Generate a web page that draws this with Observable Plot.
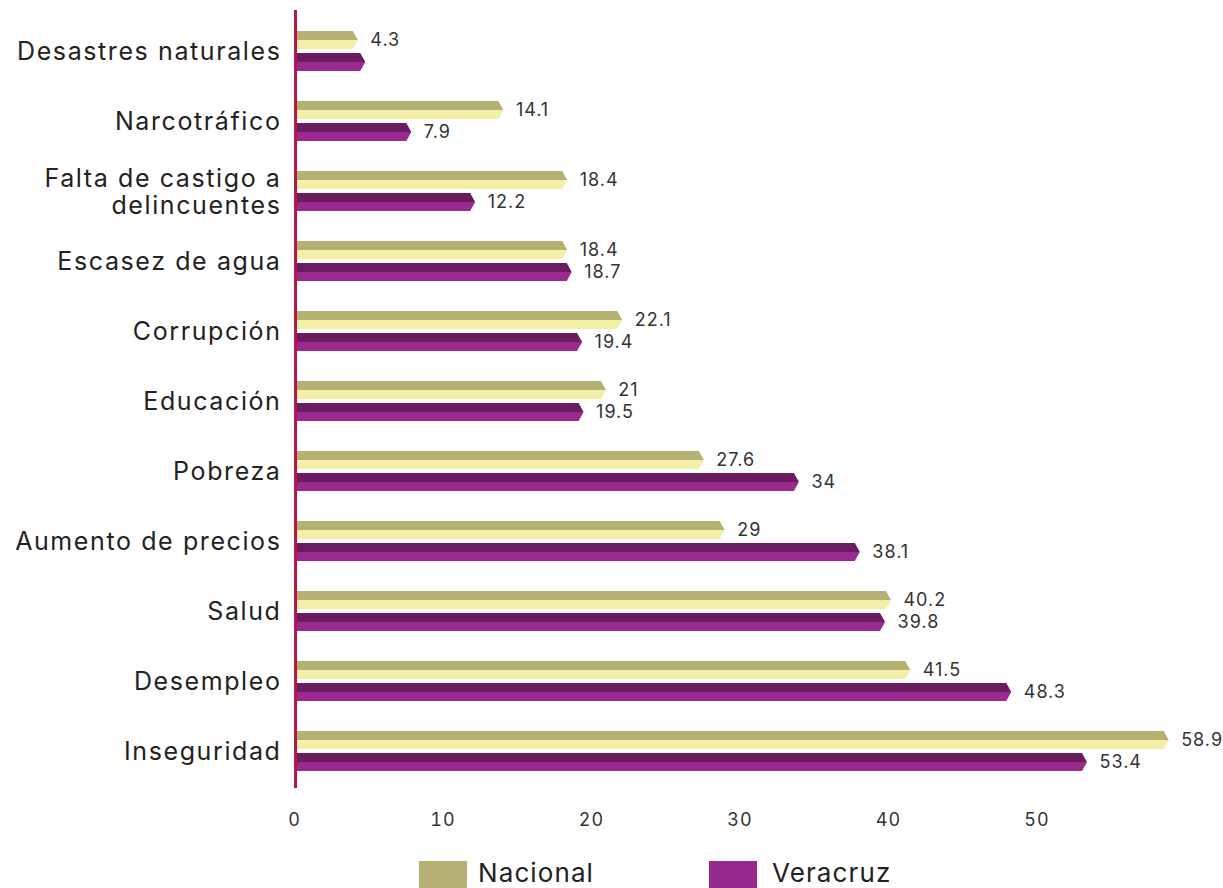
<!DOCTYPE html>
<html>
<head>
<meta charset="utf-8">
<script src="https://cdn.jsdelivr.net/npm/d3@7"></script>
<script src="https://cdn.jsdelivr.net/npm/@observablehq/plot@0.6"></script>
<style>
  html, body { margin: 0; padding: 0; background: #fff; }
  body { width: 1223px; height: 888px; overflow: hidden; font-family: Inter, "Open Sans", sans-serif; }
  #chart svg g[aria-label="y-axis tick label"] text { letter-spacing: 1.6px; }
  #chart svg g[aria-label="x-axis tick label"] text { letter-spacing: 1px; }
  #chart svg g[aria-label="text"] text { letter-spacing: 1px; }
  #legend { position: relative; height: 33px; margin-top: 6px; }
  .sw { position: absolute; top: 0; width: 48px; height: 27px; }
  .lt { position: absolute; top: -4px; font-size: 26px; color: #222; letter-spacing: 1.1px; font-family: Inter, sans-serif; }
</style>
</head>
<body>
<div id="chart"></div>
<div id="legend"></div>
<script>
const categories = ["Desastres naturales", "Narcotráfico", "Falta de castigo a\ndelincuentes", "Escasez de agua", "Corrupción", "Educación", "Pobreza", "Aumento de precios", "Salud", "Desempleo", "Inseguridad"];
const nacional = [4.3, 14.1, 18.4, 18.4, 22.1, 21, 27.6, 29, 40.2, 41.5, 58.9];
const veracruz = [4.8, 7.9, 12.2, 18.7, 19.4, 19.5, 34, 38.1, 39.8, 48.3, 53.4];
const veracruzLabels = ["", "7.9", "12.2", "18.7", "19.4", "19.5", "34", "38.1", "39.8", "48.3", "53.4"];
const nacionalLabels = nacional.map(String);
const xTicks = [0, 10, 20, 30, 40, 50];
const seriesNames = ["Nacional", "Veracruz"];
const seriesColors = {
  Nacional: {top: "#b5b173", bottom: "#f3efa6", legend: "#b5b073"},
  Veracruz: {top: "#6b1b5f", bottom: "#9b2a8f", legend: "#992a8d"}
};

const data = [];
categories.forEach((c, i) => {
  data.push({cat: c, series: "Nacional", value: nacional[i], label: nacionalLabels[i]});
  data.push({cat: c, series: "Veracruz", value: veracruz[i], label: veracruzLabels[i]});
});

const H = 855, MT = 15, MB = 68;

function arrowBars(index, scales, values, dimensions) {
  const g = d3.create("svg:g");
  const bw = (scales.y && scales.y.bandwidth) ? scales.y.bandwidth() : (dimensions.height - dimensions.marginTop - dimensions.marginBottom) / categories.length;
  const x0 = scales.x(0) + 2;
  for (const i of index) {
    const d = data[i];
    const c = scales.y(d.cat) + bw / 2;
    const xv = scales.x(d.value);
    const y0 = d.series === "Nacional" ? c - 20 : c + 2;
    const y1 = y0 + 18, ym = y0 + 9;
    const col = seriesColors[d.series];
    const tip = 5;
    g.append("polygon")
      .attr("points", [[x0, y0], [xv - tip, y0], [xv, ym], [x0, ym]].map(p => p.join(",")).join(" "))
      .attr("fill", col.top);
    g.append("polygon")
      .attr("points", [[x0, ym], [xv, ym], [xv - tip, y1], [x0, y1]].map(p => p.join(",")).join(" "))
      .attr("fill", col.bottom);
  }
  return g.node();
}

const plot = Plot.plot({
  width: 1223,
  height: H,
  marginLeft: 294,
  marginRight: 38,
  marginTop: MT,
  marginBottom: MB,
  style: {fontFamily: "Inter, sans-serif", color: "#222", background: "#fff"},
  x: {domain: [0, 60], axis: null},
  y: {domain: categories, padding: 0, axis: null},
  marks: [
    Plot.axisX({ticks: xTicks, tickSize: 0, tickPadding: 26, fontSize: 18, fill: "#333", label: null, tickFormat: d => String(d)}),
    Plot.axisY({tickSize: 0, tickPadding: 13, fontSize: 25, fill: "#222", lineHeight: 1.08, label: null, tickFormat: d => d}),
    Plot.barX(data, {x1: 0, x2: "value", y: "cat", render: arrowBars}),
    Plot.ruleX([0], {stroke: "#b5164a", strokeWidth: 3, dx: 1, insetTop: -5, insetBottom: -1}),
    Plot.text(data.filter(d => d.series === "Nacional"), {x: "value", y: "cat", text: "label", dx: 12, dy: -11, textAnchor: "start", fontSize: 18, fill: "#333"}),
    Plot.text(data.filter(d => d.series === "Veracruz"), {x: "value", y: "cat", text: "label", dx: 12, dy: 11, textAnchor: "start", fontSize: 18, fill: "#333"})
  ]
});
document.getElementById("chart").appendChild(plot);

const legend = document.getElementById("legend");
const legendPos = {Nacional: [419, 478], Veracruz: [709, 772]};
seriesNames.forEach(s => {
  const sw = document.createElement("div");
  sw.className = "sw";
  sw.style.left = legendPos[s][0] + "px";
  sw.style.background = seriesColors[s].legend;
  legend.appendChild(sw);
  const t = document.createElement("div");
  t.className = "lt";
  t.style.left = legendPos[s][1] + "px";
  t.textContent = s;
  legend.appendChild(t);
});
</script>
</body>
</html>
